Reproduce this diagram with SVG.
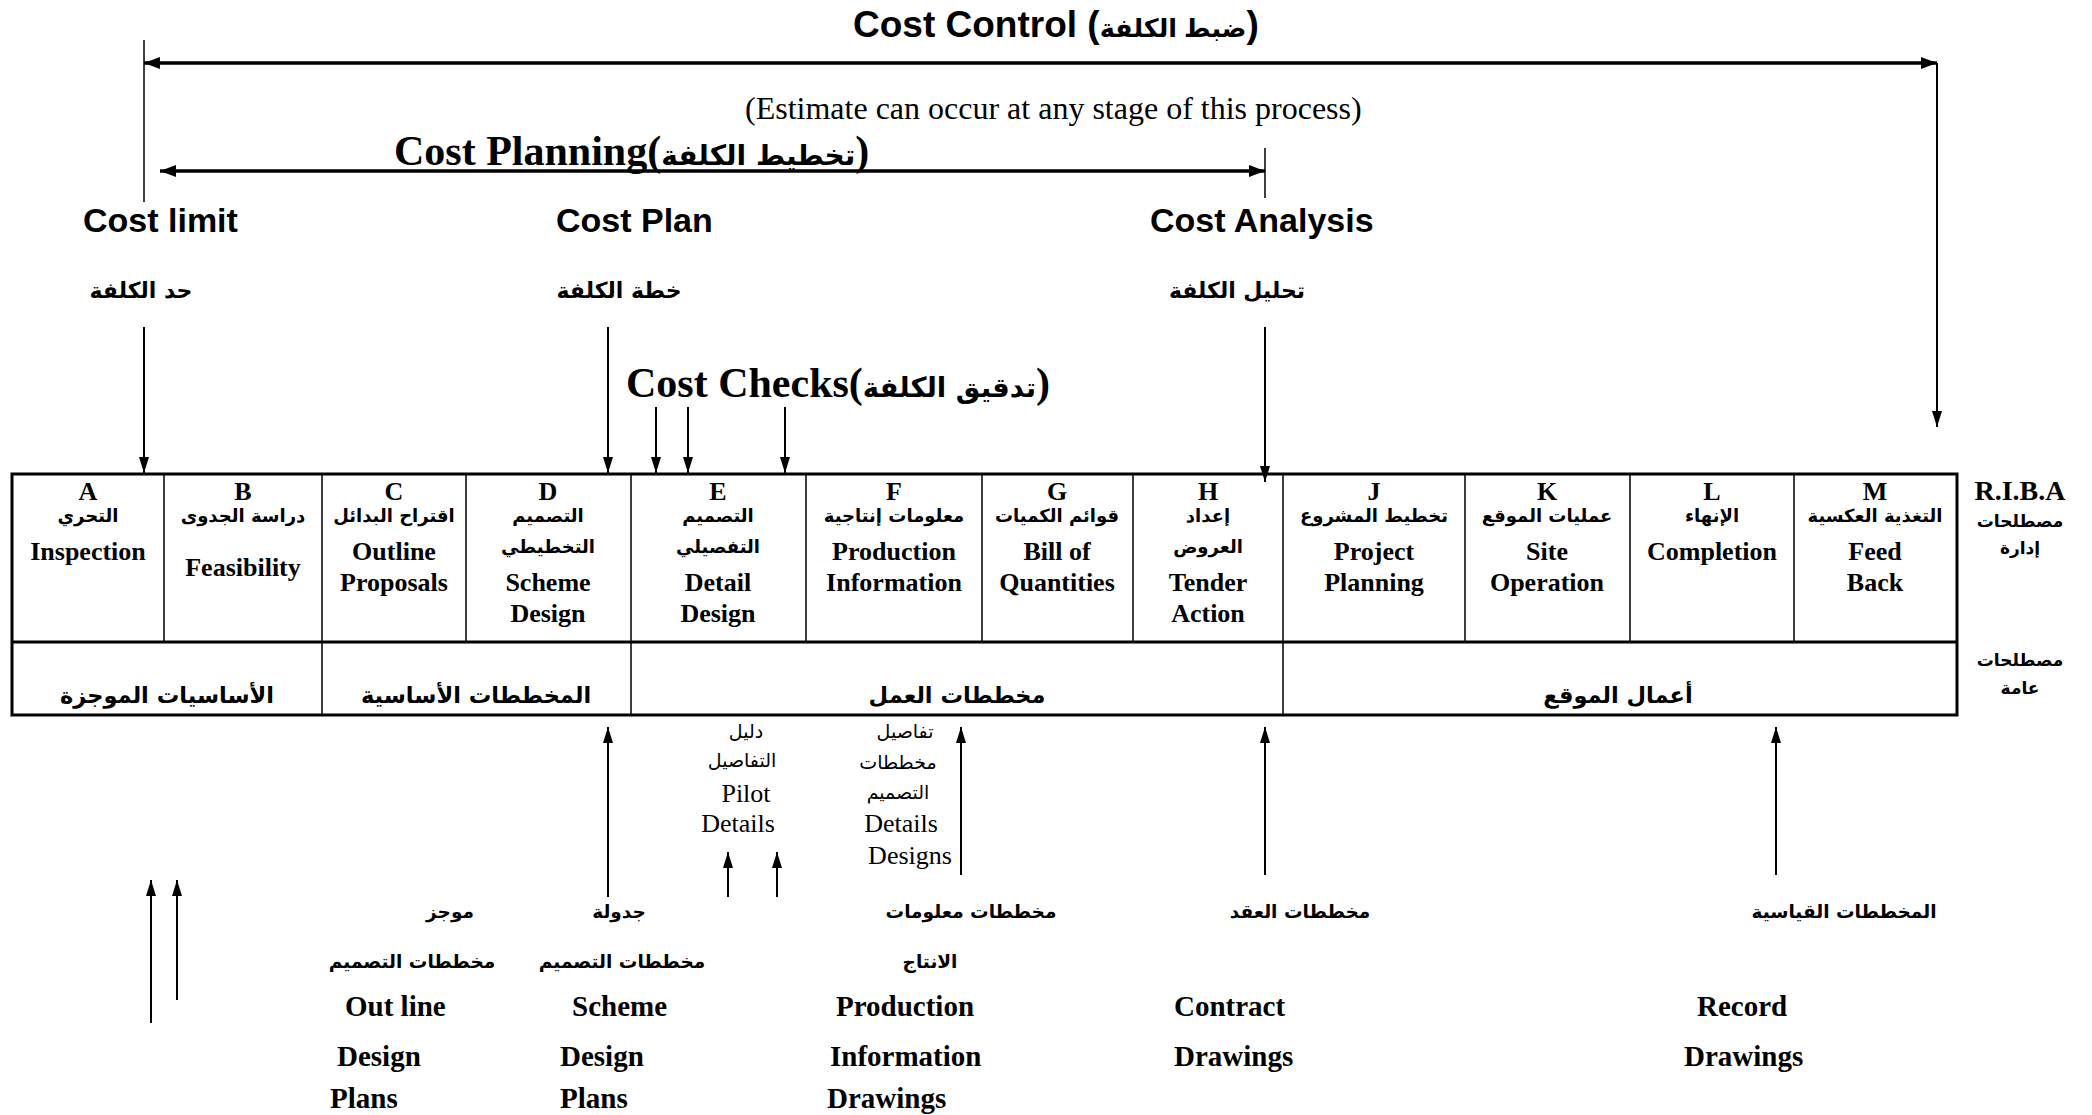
<svg xmlns="http://www.w3.org/2000/svg" width="2092" height="1115" viewBox="0 0 2092 1115">
<style>
text{fill:#000}
.sansb{font-family:"Liberation Sans","DejaVu Sans",sans-serif;font-weight:bold}
.serifb{font-family:"Liberation Serif","DejaVu Sans",serif;font-weight:bold}
.serif{font-family:"Liberation Serif","DejaVu Sans",serif}
.arb{font-family:"DejaVu Sans",sans-serif;font-weight:bold}
.ar{font-family:"DejaVu Sans",sans-serif}
.c{text-anchor:middle}
.cell{font-size:26px}
.carab{font-size:18px}
.big{font-size:22.5px}
.bot{font-size:29px}
.botar{font-size:18.5px}
.ln{stroke:#000;fill:none}
.arr{stroke:#000;stroke-width:2;fill:none;marker-end:url(#ah)}
</style>
<defs>
<marker id="ah" viewBox="0 0 16 10" refX="16" refY="5" markerWidth="16" markerHeight="10" markerUnits="userSpaceOnUse" orient="auto"><path d="M0,0 L16,5 L0,10 z" fill="#000"/></marker>
<marker id="ah2" viewBox="0 0 16 12" refX="16" refY="6" markerWidth="16" markerHeight="12" markerUnits="userSpaceOnUse" orient="auto-start-reverse"><path d="M0,0 L16,6 L0,12 z" fill="#000"/></marker>
</defs>

<g id="titles">
<text class="sansb" x="853" y="37" font-size="37">Cost Control (<tspan font-size="25.5">ضبط الكلفة</tspan>)</text>
<text class="serif" x="745" y="119" font-size="32">(Estimate can occur at any stage of this process)</text>
<text class="serifb" x="394" y="165" font-size="42">Cost Planning(<tspan class="arb" font-size="28">تخطيط الكلفة</tspan>)</text>
<text class="serifb" x="626" y="397" font-size="42">Cost Checks(<tspan class="arb" font-size="27.5">تدقيق الكلفة</tspan>)</text>
</g>

<g id="cost-labels">
<text class="sansb" x="83" y="232" font-size="34">Cost limit</text>
<text class="sansb" x="556" y="232" font-size="34">Cost Plan</text>
<text class="sansb" x="1150" y="232" font-size="34">Cost Analysis</text>
<text class="arb c" x="141" y="298" font-size="22">حد الكلفة</text>
<text class="arb c" x="619" y="298" font-size="22">خطة الكلفة</text>
<text class="arb c" x="1237" y="298" font-size="22">تحليل الكلفة</text>
</g>

<g id="connectors">
<line class="ln" x1="144" y1="63" x2="1937" y2="63" stroke-width="3.5" marker-start="url(#ah2)" marker-end="url(#ah2)"/>
<line class="ln" x1="160" y1="171" x2="1265" y2="171" stroke-width="3.5" marker-start="url(#ah2)" marker-end="url(#ah2)"/>
<line class="ln" x1="144" y1="40" x2="144" y2="202" stroke-width="1.5"/>
<line class="ln" x1="1265" y1="148" x2="1265" y2="198" stroke-width="1.5"/>
<line class="arr" x1="1937" y1="63" x2="1937" y2="427"/>
<line class="arr" x1="144" y1="327" x2="144" y2="473"/>
<line class="arr" x1="608" y1="327" x2="608" y2="473"/>
<line class="arr" x1="656" y1="407" x2="656" y2="473"/>
<line class="arr" x1="688" y1="407" x2="688" y2="473"/>
<line class="arr" x1="785" y1="407" x2="785" y2="473"/>
<line class="arr" x1="1265" y1="327" x2="1265" y2="482"/>
<line class="arr" x1="608" y1="897" x2="608" y2="727"/>
<line class="arr" x1="728" y1="897" x2="728" y2="852"/>
<line class="arr" x1="777" y1="897" x2="777" y2="852"/>
<line class="arr" x1="961" y1="875" x2="961" y2="727"/>
<line class="arr" x1="1265" y1="875" x2="1265" y2="727"/>
<line class="arr" x1="1776" y1="875" x2="1776" y2="727"/>
<line class="arr" x1="151" y1="1023" x2="151" y2="880"/>
<line class="arr" x1="177" y1="1000" x2="177" y2="880"/>
</g>

<g id="table">
<rect class="ln" x="12" y="474" width="1945" height="241" stroke-width="3"/>
<line class="ln" x1="12" y1="642" x2="1957" y2="642" stroke-width="3"/>
<path class="ln" stroke-width="1.5" d="M164,474V642M322,474V715M466,474V642M631,474V715M806,474V642M982,474V642M1133,474V642M1283,474V715M1465,474V642M1630,474V642M1794,474V642"/>
</g>

<g id="stage-A" class="serifb cell c">
<text x="88" y="500">A</text>
<text class="arb carab" x="88" y="522">التحري</text>
<text x="88" y="560">Inspection</text>
</g>
<g id="stage-B" class="serifb cell c">
<text x="243" y="500">B</text>
<text class="arb carab" x="243" y="522">دراسة الجدوى</text>
<text x="243" y="576">Feasibility</text>
</g>
<g id="stage-C" class="serifb cell c">
<text x="394" y="500">C</text>
<text class="arb carab" x="394" y="522">اقتراح البدائل</text>
<text x="394" y="560">Outline</text>
<text x="394" y="591">Proposals</text>
</g>
<g id="stage-D" class="serifb cell c">
<text x="548" y="500">D</text>
<text class="arb carab" x="548" y="522">التصميم</text>
<text class="arb carab" x="548" y="553">التخطيطي</text>
<text x="548" y="591">Scheme</text>
<text x="548" y="622">Design</text>
</g>
<g id="stage-E" class="serifb cell c">
<text x="718" y="500">E</text>
<text class="arb carab" x="718" y="522">التصميم</text>
<text class="arb carab" x="718" y="553">التفصيلي</text>
<text x="718" y="591">Detail</text>
<text x="718" y="622">Design</text>
</g>
<g id="stage-F" class="serifb cell c">
<text x="894" y="500">F</text>
<text class="arb carab" x="894" y="522">معلومات إنتاجية</text>
<text x="894" y="560">Production</text>
<text x="894" y="591">Information</text>
</g>
<g id="stage-G" class="serifb cell c">
<text x="1057" y="500">G</text>
<text class="arb carab" x="1057" y="522">قوائم الكميات</text>
<text x="1057" y="560">Bill of</text>
<text x="1057" y="591">Quantities</text>
</g>
<g id="stage-H" class="serifb cell c">
<text x="1208" y="500">H</text>
<text class="arb carab" x="1208" y="522">إعداد</text>
<text class="arb carab" x="1208" y="553">العروض</text>
<text x="1208" y="591">Tender</text>
<text x="1208" y="622">Action</text>
</g>
<g id="stage-J" class="serifb cell c">
<text x="1374" y="500">J</text>
<text class="arb carab" x="1374" y="522">تخطيط المشروع</text>
<text x="1374" y="560">Project</text>
<text x="1374" y="591">Planning</text>
</g>
<g id="stage-K" class="serifb cell c">
<text x="1547" y="500">K</text>
<text class="arb carab" x="1547" y="522">عمليات الموقع</text>
<text x="1547" y="560">Site</text>
<text x="1547" y="591">Operation</text>
</g>
<g id="stage-L" class="serifb cell c">
<text x="1712" y="500">L</text>
<text class="arb carab" x="1712" y="522">الإنهاء</text>
<text x="1712" y="560">Completion</text>
</g>
<g id="stage-M" class="serifb cell c">
<text x="1875" y="500">M</text>
<text class="arb carab" x="1875" y="522">التغذية العكسية</text>
<text x="1875" y="560">Feed</text>
<text x="1875" y="591">Back</text>
</g>

<g id="general-terms" class="arb big c">
<text x="167" y="703">الأساسيات الموجزة</text>
<text x="476" y="703">المخططات الأساسية</text>
<text x="957" y="703">مخططات العمل</text>
<text x="1618" y="703">أعمال الموقع</text>
</g>

<g id="row-labels">
<text class="serifb c" x="2020" y="500" font-size="28">R.I.B.A</text>
<text class="arb c" x="2020" y="527" font-size="17">مصطلحات</text>
<text class="arb c" x="2020" y="554" font-size="17">إدارة</text>
<text class="arb c" x="2020" y="666" font-size="17">مصطلحات</text>
<text class="arb c" x="2020" y="694" font-size="17">عامة</text>
</g>

<g id="pilot-details" class="c">
<text class="ar" x="746" y="738" font-size="19">دليل</text>
<text class="ar" x="742" y="767" font-size="19">التفاصيل</text>
<text class="serif" x="746" y="802" font-size="26">Pilot</text>
<text class="serif" x="738" y="832" font-size="26">Details</text>
</g>
<g id="design-details" class="c">
<text class="ar" x="905" y="738" font-size="19">تفاصيل</text>
<text class="ar" x="898" y="769" font-size="19">مخططات</text>
<text class="ar" x="898" y="799" font-size="19">التصميم</text>
<text class="serif" x="901" y="832" font-size="26">Details</text>
<text class="serif" x="910" y="864" font-size="26">Designs</text>
</g>

<g id="outline-design-plans">
<text class="arb botar c" x="450" y="918">موجز</text>
<text class="arb botar c" x="412" y="968">مخططات التصميم</text>
<text class="serifb bot" x="345" y="1016">Out line</text>
<text class="serifb bot" x="337" y="1066">Design</text>
<text class="serifb bot" x="330" y="1108">Plans</text>
</g>
<g id="scheme-design-plans">
<text class="arb botar c" x="619" y="918">جدولة</text>
<text class="arb botar c" x="622" y="968">مخططات التصميم</text>
<text class="serifb bot" x="572" y="1016">Scheme</text>
<text class="serifb bot" x="560" y="1066">Design</text>
<text class="serifb bot" x="560" y="1108">Plans</text>
</g>
<g id="production-information-drawings">
<text class="arb botar c" x="971" y="918">مخططات معلومات</text>
<text class="arb botar c" x="930" y="968">الانتاج</text>
<text class="serifb bot" x="836" y="1016">Production</text>
<text class="serifb bot" x="830" y="1066">Information</text>
<text class="serifb bot" x="827" y="1108">Drawings</text>
</g>
<g id="contract-drawings">
<text class="arb botar c" x="1300" y="918">مخططات العقد</text>
<text class="serifb bot" x="1174" y="1016">Contract</text>
<text class="serifb bot" x="1174" y="1066">Drawings</text>
</g>
<g id="record-drawings">
<text class="arb botar c" x="1844" y="918">المخططات القياسية</text>
<text class="serifb bot" x="1697" y="1016">Record</text>
<text class="serifb bot" x="1684" y="1066">Drawings</text>
</g>
</svg>
